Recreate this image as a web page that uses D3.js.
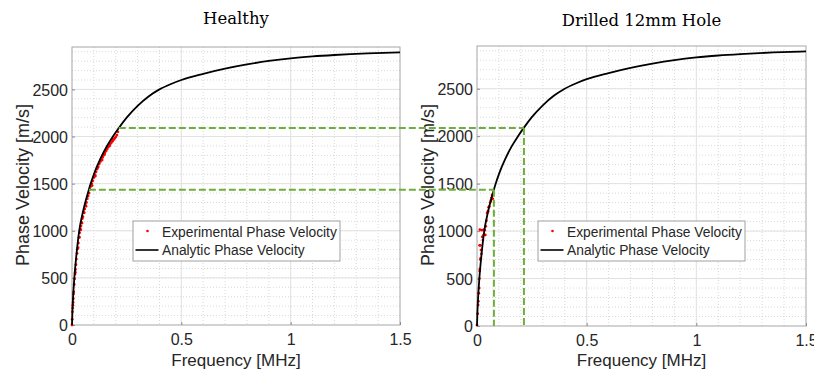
<!DOCTYPE html>
<html>
<head>
<script src="https://d3js.org/d3.v7.min.js" charset="utf-8"></script>
<style>
    body{margin:0;background:#fff;}
    text{font-family:"Liberation Sans",Arial,Helvetica,sans-serif;fill:#262626;}
    .title{font-family:"DejaVu Serif",serif;fill:#000;}
</style>
</head>
<body>
<div id="chart"></div>
<script>
// analytic curve (MHz, m/s)
var freqAnalytic = [0, 0.002, 0.0046, 0.0107, 0.02, 0.033, 0.05, 0.077, 0.084, 0.1, 0.13, 0.16, 0.19, 0.214, 0.25, 0.30, 0.35, 0.40, 0.45, 0.5, 0.6, 0.7, 0.8, 0.9, 1.0, 1.1, 1.2, 1.35, 1.5]
var velAnalytic  = [0, 150, 280, 500, 740, 1000, 1200, 1435, 1490, 1600, 1765, 1900, 2010, 2090, 2200, 2325, 2425, 2500, 2555, 2600, 2665, 2720, 2765, 2802, 2830, 2850, 2865, 2882, 2893]

// experimental points, healthy plate
var freqHealthy = [0, 0.001, 0.002, 0.003, 0.004, 0.005, 0.006, 0.008, 0.010, 0.012, 0.014, 0.016, 0.018, 0.020, 0.023, 0.026, 0.029, 0.032, 0.035, 0.038, 0.040, 0.041, 0.044, 0.047, 0.050, 0.054, 0.058, 0.062, 0.066, 0.070, 0.074, 0.078, 0.082, 0.086, 0.090, 0.095, 0.100, 0.105, 0.110, 0.115, 0.120, 0.125, 0.130, 0.135, 0.140, 0.145, 0.150, 0.155, 0.160, 0.165, 0.170, 0.175, 0.180, 0.185, 0.190, 0.195, 0.200, 0.205, 0.210, 0.028, 0.045, 0.064, 0.092, 0.118, 0.148, 0.172, 0.007, 0.015, 0.034, 0.056, 0.107, 0.138, 0.186]
var velHealthy  = [0, 60, 140, 180, 210, 240, 280, 350, 430, 490, 540, 590, 640, 700, 760, 810, 870, 930, 980, 1020, 1010, 1050, 1090, 1130, 1150, 1200, 1230, 1270, 1300, 1340, 1370, 1400, 1440, 1470, 1500, 1530, 1565, 1595, 1625, 1655, 1680, 1710, 1735, 1760, 1780, 1800, 1825, 1845, 1865, 1885, 1905, 1920, 1935, 1950, 1965, 1980, 1995, 2015, 2050, 820, 1080, 1260, 1480, 1670, 1810, 1900, 330, 560, 930, 1190, 1580, 1750, 1975]

// experimental points, drilled plate
var freqDrilled = [0, 0.003, 0.005, 0.006, 0.008, 0.010, 0.011, 0.012, 0.013, 0.015, 0.017, 0.012, 0.015, 0.018, 0.020, 0.022, 0.024, 0.027, 0.030, 0.032, 0.035, 0.038, 0.040, 0.043, 0.046, 0.050, 0.053, 0.056, 0.060, 0.063, 0.066, 0.069, 0.072, 0.013]
var velDrilled  = [10, 130, 220, 260, 345, 400, 500, 580, 600, 700, 715, 850, 850, 800, 760, 1010, 940, 905, 960, 1015, 1010, 960, 1050, 1110, 1190, 1210, 1250, 1260, 1300, 1320, 1350, 1380, 1340, 1015]

// green guide lines
var guideFreq = [0.077, 0.214]
var guideVel = [1435, 2090]

var xTicks = [0, 0.5, 1, 1.5]
var yTicks = [0, 500, 1000, 1500, 2000, 2500]
var titles = ["Healthy", "Drilled 12mm Hole"]
var legendLabels = ["Experimental Phase Velocity", "Analytic Phase Velocity"]

var svg = d3.select("#chart").append("svg")
    .attr("width", 814).attr("height", 377)
svg.append("rect").attr("width", 814).attr("height", 377).attr("fill", "#fff")

var panels = [
    {left:72, right:400, top:47, bottom:325, title:titles[0], titleY:24, fx:freqHealthy, fy:velHealthy},
    {left:477, right:806, top:46, bottom:326, title:titles[1], titleY:26, fx:freqDrilled, fy:velDrilled}
]

var analytic = freqAnalytic.map(function(f,i){return {f:f, v:velAnalytic[i]}})

panels.forEach(function(p){
    p.x = d3.scaleLinear().domain([0,1.5]).range([p.left,p.right])
    p.y = d3.scaleLinear().domain([0,2950]).range([p.bottom,p.top])
    var g = svg.append("g")

    // minor grid
    g.selectAll(".minorx").data(d3.range(1,15).map(function(d){return d/10}))
        .enter().append("line")
        .attr("x1",function(d){return p.x(d)}).attr("x2",function(d){return p.x(d)})
        .attr("y1",p.top).attr("y2",p.bottom)
        .attr("stroke","#cfcfcf").attr("stroke-dasharray","1,2").attr("stroke-width",0.8)
    g.selectAll(".minory").data(d3.range(1,30).map(function(d){return d*100}))
        .enter().append("line")
        .attr("y1",function(d){return p.y(d)}).attr("y2",function(d){return p.y(d)})
        .attr("x1",p.left).attr("x2",p.right)
        .attr("stroke","#cfcfcf").attr("stroke-dasharray","1,2").attr("stroke-width",0.8)
    // major grid
    g.selectAll(".majorx").data(xTicks.slice(1,3))
        .enter().append("line")
        .attr("x1",function(d){return p.x(d)}).attr("x2",function(d){return p.x(d)})
        .attr("y1",p.top).attr("y2",p.bottom)
        .attr("stroke","#e2e2e2").attr("stroke-width",1)
    g.selectAll(".majory").data(yTicks.slice(1))
        .enter().append("line")
        .attr("y1",function(d){return p.y(d)}).attr("y2",function(d){return p.y(d)})
        .attr("x1",p.left).attr("x2",p.right)
        .attr("stroke","#e2e2e2").attr("stroke-width",1)

    // box
    g.append("rect").attr("x",p.left).attr("y",p.top)
        .attr("width",p.right-p.left).attr("height",p.bottom-p.top)
        .attr("fill","none").attr("stroke","#a6a6a6").attr("stroke-width",1)

    // axes
    var xAxis = g.append("g").attr("transform","translate(0,"+p.bottom+")")
        .call(d3.axisBottom(p.x).tickValues(xTicks).tickSize(-3).tickPadding(9)
            .tickFormat(d3.format("")))
    var yAxis = g.append("g").attr("transform","translate("+p.left+",0)")
        .call(d3.axisLeft(p.y).tickValues(yTicks).tickSize(-3).tickPadding(4)
            .tickFormat(d3.format("d")))
    ;[xAxis,yAxis].forEach(function(a){
        a.select(".domain").remove()
        a.selectAll("line").attr("stroke","#8c8c8c")
        a.selectAll("text").attr("font-size","16px").attr("fill","#262626")
            .style("font-family","'Liberation Sans',Arial,sans-serif")
    })
    xAxis.selectAll("text").attr("dy",0).attr("y",20)
    yAxis.selectAll("text").attr("dy","0.36em")

    // labels
    g.append("text").attr("x",(p.left+p.right)/2).attr("y",366)
        .attr("text-anchor","middle").attr("font-size","17px").text("Frequency [MHz]")
    g.append("text").attr("transform","translate("+(p.left-43)+","+185+") rotate(-90)")
        .attr("text-anchor","middle").attr("font-size","18px").text("Phase Velocity [m/s]")
    g.append("text").attr("class","title").attr("x",(p.left+p.right)/2).attr("y",p.titleY)
        .attr("text-anchor","middle").attr("font-size","16.5px").text(p.title)

    // experimental points
    var pts = p.fx.map(function(f,i){return {f:f, v:p.fy[i]}})
    g.selectAll(".pt").data(pts).enter().append("circle")
        .attr("cx",function(d){return p.x(d.f)}).attr("cy",function(d){return p.y(d.v)})
        .attr("r",1.4).attr("fill","#ff0000")

    // analytic curve
    var line = d3.line().x(function(d){return p.x(d.f)}).y(function(d){return p.y(d.v)})
        .curve(d3.curveMonotoneX)
    g.append("path").datum(analytic).attr("d",line)
        .attr("fill","none").attr("stroke","#000").attr("stroke-width",1.8)

    // legend
    var lx = p.left+61, ly = 221
    var lg = g.append("g").attr("transform","translate("+lx+","+ly+")")
    lg.append("rect").attr("width",207).attr("height",40)
        .attr("fill","#fff").attr("stroke","#a0a0a0").attr("stroke-width",1)
    lg.append("circle").attr("cx",14.5).attr("cy",10).attr("r",1.3).attr("fill","#ff0000")
    lg.append("line").attr("x1",2.5).attr("x2",25.5).attr("y1",29).attr("y2",29)
        .attr("stroke","#000").attr("stroke-width",1.6)
    lg.selectAll(".lt").data(legendLabels).enter().append("text")
        .attr("x",29).attr("y",function(d,i){return 15.5+i*18.5})
        .attr("font-size","13.8px").attr("fill","#000").text(function(d){return d})
})

// green guide lines across both panels
var L = panels[0], R = panels[1]
var guides = svg.append("g").attr("fill","none").attr("stroke","#6fae3a")
    .attr("stroke-width",2).attr("stroke-dasharray","7,3")
guideFreq.forEach(function(f,i){
    var v = guideVel[i]
    guides.append("line").attr("x1",L.x(f)).attr("x2",R.x(f))
        .attr("y1",L.y(v)).attr("y2",L.y(v))
    guides.append("line").attr("x1",R.x(f)).attr("x2",R.x(f))
        .attr("y1",L.y(v)).attr("y2",R.y(0))
})
</script>
</body>
</html>
